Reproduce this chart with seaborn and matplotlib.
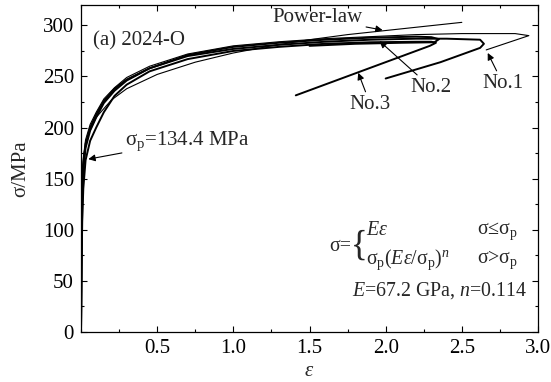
import matplotlib
matplotlib.use("Agg")
import matplotlib.pyplot as plt
import seaborn as sns
import pandas as pd
from matplotlib.ticker import MultipleLocator

# ---------------- data ----------------
load_eps = [0, 0.004, 0.008, 0.015, 0.03, 0.06, 0.1, 0.15, 0.22, 0.3, 0.45, 0.7, 1.0, 1.3, 1.6, 1.9, 2.2]

no1_exp_sig = [0, 85, 135, 163, 184, 200, 213, 226, 238, 247, 258, 270, 277, 281, 284, 286, 287]
no1_exp_tail_eps = [2.4, 2.62, 2.645, 2.62, 2.36, 2.0]
no1_exp_tail_sig = [287, 286, 282, 278, 264, 248]

no1_sim_sig = [0, 100, 150, 170, 188, 203, 215, 228, 239, 249, 260, 272, 280, 284, 287, 289, 291]
no1_sim_tail_eps = [2.5, 2.85, 2.94, 2.66]
no1_sim_tail_sig = [292, 292, 290, 276]

no2_exp_sig = [0, 75, 125, 158, 180, 197, 210, 224, 236, 246, 258, 271, 279, 283, 286, 288, 289]
no2_exp_tail_eps = [2.3, 2.35, 2.32, 2.1, 1.8, 1.5]
no2_exp_tail_sig = [288.5, 286.5, 283.5, 283, 282, 280]

no3_exp_sig = [0, 65, 108, 140, 168, 187, 200, 215, 231, 242, 255, 267, 275, 279, 282, 283.5, 284]
no3_exp_tail_eps = [2.3, 2.33, 2.29, 1.41]
no3_exp_tail_sig = [284, 283, 280, 231.5]

power_eps = [0, 0.002, 0.01, 0.02, 0.05, 0.1, 0.2, 0.3, 0.5, 0.75, 1.0, 1.25, 1.5, 1.75, 2.0, 2.25, 2.5]
power_sig = [0, 134.4, 161, 175, 194, 210, 227, 238, 252, 264, 273, 280, 286, 291, 295, 299, 303]

x_ticks = [0.5, 1.0, 1.5, 2.0, 2.5, 3.0]
x_tick_labels = ["0.5", "1.0", "1.5", "2.0", "2.5", "3.0"]
y_ticks = [0, 50, 100, 150, 200, 250, 300]
y_tick_labels = ["0", "50", "100", "150", "200", "250", "300"]

# ---------------- style ----------------
sns.set_style("ticks")
plt.rcParams["font.family"] = ["Liberation Serif", "DejaVu Serif"]
plt.rcParams["mathtext.fontset"] = "custom"
plt.rcParams["mathtext.rm"] = "Liberation Serif"
plt.rcParams["mathtext.it"] = "Liberation Serif:italic"
plt.rcParams["mathtext.bf"] = "Liberation Serif:bold"
FS = 15

fig = plt.figure(figsize=(5.51, 3.82), dpi=100)
ax = fig.add_axes([81 / 551, (382 - 331.7) / 382, (538 - 81) / 551, (331.7 - 5) / 382])


def curve(eps, sig, lw):
    df = pd.DataFrame({"eps": eps, "sig": sig})
    sns.lineplot(data=df, x="eps", y="sig", sort=False, estimator=None,
                 color="black", lw=lw, ax=ax, legend=False)


THICK = 1.4
THIN = 0.8
curve(load_eps + no1_exp_tail_eps, no1_exp_sig + no1_exp_tail_sig, THICK)
curve(load_eps + no2_exp_tail_eps, no2_exp_sig + no2_exp_tail_sig, THICK)
curve(load_eps + no3_exp_tail_eps, no3_exp_sig + no3_exp_tail_sig, THICK)
curve(load_eps + no1_sim_tail_eps, no1_sim_sig + no1_sim_tail_sig, THIN)
curve(power_eps, power_sig, THIN)

ax.set_xlim(0, 3.0)
ax.set_ylim(0, 320)
ax.set_xticks(x_ticks)
ax.set_xticklabels(x_tick_labels)
ax.set_yticks(y_ticks)
ax.set_yticklabels(y_tick_labels)
ax.xaxis.set_minor_locator(MultipleLocator(0.25))
ax.yaxis.set_minor_locator(MultipleLocator(25))
ax.tick_params(which="both", direction="in", top=True, right=True, colors="black",
               labelsize=FS, width=0.8)
ax.tick_params(which="major", length=4, pad=5)
ax.tick_params(which="minor", length=2.5)
for s in ax.spines.values():
    s.set_linewidth(0.9)
    s.set_color("black")

ax.set_xlabel(r"$\mathit{ε}$", fontsize=FS, labelpad=3)
ax.set_ylabel("σ/MPa", fontsize=FS, labelpad=9)

# ---------------- annotations ----------------
ax.text(0.079, 285, "(a) 2024-O", fontsize=FS, ha="left", va="center")

arrow = dict(arrowstyle="-|>", color="black", lw=0.8, mutation_scale=10,
             shrinkA=0, shrinkB=0)
ax.annotate("Power-law", xy=(1.98, 295.4), xytext=(1.85, 307.5), fontsize=FS,
            ha="right", va="center", arrowprops=arrow)
ax.annotate(r"$\mathregular{σ_p}$=134.4 MPa", xy=(0.048, 169), xytext=(0.29, 187),
            fontsize=FS, ha="left", va="center", arrowprops=arrow)
ax.annotate("No.1", xy=(2.67, 273), xytext=(2.77, 243), fontsize=FS,
            ha="center", va="center", arrowprops=arrow)
ax.annotate("No.2", xy=(1.96, 284.6), xytext=(2.30, 239), fontsize=FS,
            ha="center", va="center", arrowprops=arrow)
ax.annotate("No.3", xy=(1.82, 253.6), xytext=(1.90, 222.5), fontsize=FS,
            ha="center", va="center", arrowprops=arrow)

# equation block
EQ = 14.3
ax.text(1.772, 83, "σ=", fontsize=EQ, ha="right", va="center")
ax.text(1.772, 84, "{", fontsize=25, ha="left", va="center")
ax.text(1.872, 98.8, r"$\mathit{Eε}$", fontsize=EQ, ha="left", va="center")
ax.text(2.60, 98.8, r"σ≤$\mathregular{σ_p}$", fontsize=EQ, ha="left", va="center")
ax.text(1.868, 70.9, r"$\mathregular{σ_p(}\mathit{Eε}\mathregular{/σ_p)}^{\mathit{n}}$",
        fontsize=EQ, ha="left", va="center")
ax.text(2.60, 70.9, r"σ>$\mathregular{σ_p}$", fontsize=EQ, ha="left", va="center")
ax.text(1.778, 40, r"$\mathit{E}$=67.2 GPa, $\mathit{n}$=0.114", fontsize=EQ,
        ha="left", va="center")

fig.savefig("out.png", dpi=100)
